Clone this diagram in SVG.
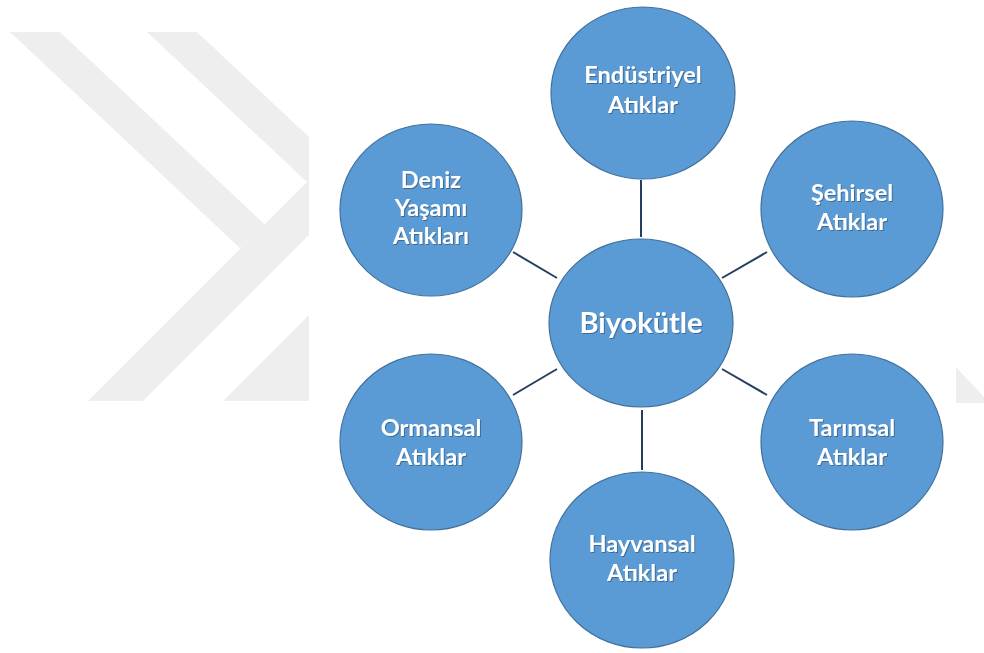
<svg xmlns="http://www.w3.org/2000/svg" width="984" height="653" viewBox="0 0 984 653">
  <defs>
    <clipPath id="wmclip"><rect x="0" y="0" width="309" height="653"/></clipPath>
    <filter id="tshadow" x="-10%" y="-20%" width="120%" height="140%">
      <feDropShadow dx="1" dy="1" stdDeviation="0.6" flood-color="#1f3550" flood-opacity="0.5"/>
    </filter>
  </defs>
  <style>
    .wm { fill: #eeeeee; }
    .node { fill: #5b9bd5; stroke: #41719c; stroke-width: 1.2; }
    .lbl { fill: #ffffff; font-family: Lato, "Open Sans", "Liberation Sans", sans-serif; font-size: 23.5px; font-weight: bold; text-anchor: middle; filter: url(#tshadow); }
    .big { font-size: 29px; }
    .conn { stroke: #263f5e; stroke-width: 2; fill: none; }
  </style>
  <rect x="0" y="0" width="984" height="653" fill="#ffffff"/>
  <g id="watermark">
    <g clip-path="url(#wmclip)">
      <polygon class="wm" points="10,32 60,32 264.6,224.4 240.4,248.6"/>
      <polygon class="wm" points="88,401 143,401 340,204 340,149"/>
      <polygon class="wm" points="147,32 197,32 340,166 340,213"/>
      <polygon class="wm" points="223,401 340,401 340,284"/>
    </g>
    <polygon class="wm" points="956,367 984,397 984,403 956,403"/>
  </g>
  <g id="connectors">
    <line class="conn" x1="641" y1="180" x2="641" y2="237"/>
    <line class="conn" x1="642" y1="410" x2="642" y2="470"/>
    <line class="conn" x1="513" y1="252" x2="557" y2="278"/>
    <line class="conn" x1="767" y1="252" x2="722" y2="278"/>
    <line class="conn" x1="513" y1="395" x2="557" y2="369"/>
    <line class="conn" x1="722" y1="369" x2="767" y2="395"/>
  </g>
  <g id="node-biyokutle">
    <ellipse class="node" cx="641" cy="323" rx="92" ry="84"/>
    <text class="lbl big" x="641" y="333">Biyokütle</text>
  </g>
  <g id="node-endustriyel">
    <ellipse class="node" cx="643" cy="93" rx="92" ry="86"/>
    <text class="lbl" x="643" y="83">Endüstriyel</text>
    <text class="lbl" x="643" y="113">Atıklar</text>
  </g>
  <g id="node-sehirsel">
    <ellipse class="node" cx="852" cy="209" rx="91" ry="88"/>
    <text class="lbl" x="852" y="201">Şehirsel</text>
    <text class="lbl" x="852" y="230">Atıklar</text>
  </g>
  <g id="node-tarimsal">
    <ellipse class="node" cx="852" cy="442" rx="91" ry="88"/>
    <text class="lbl" x="852" y="436">Tarımsal</text>
    <text class="lbl" x="852" y="465">Atıklar</text>
  </g>
  <g id="node-hayvansal">
    <ellipse class="node" cx="642" cy="560" rx="92" ry="88"/>
    <text class="lbl" x="642" y="552">Hayvansal</text>
    <text class="lbl" x="642" y="581">Atıklar</text>
  </g>
  <g id="node-ormansal">
    <ellipse class="node" cx="431" cy="442" rx="91" ry="88"/>
    <text class="lbl" x="431" y="436">Ormansal</text>
    <text class="lbl" x="431" y="465">Atıklar</text>
  </g>
  <g id="node-deniz">
    <ellipse class="node" cx="431" cy="210" rx="91" ry="86"/>
    <text class="lbl" x="431" y="188">Deniz</text>
    <text class="lbl" x="431" y="216">Yaşamı</text>
    <text class="lbl" x="431" y="244">Atıkları</text>
  </g>
</svg>
